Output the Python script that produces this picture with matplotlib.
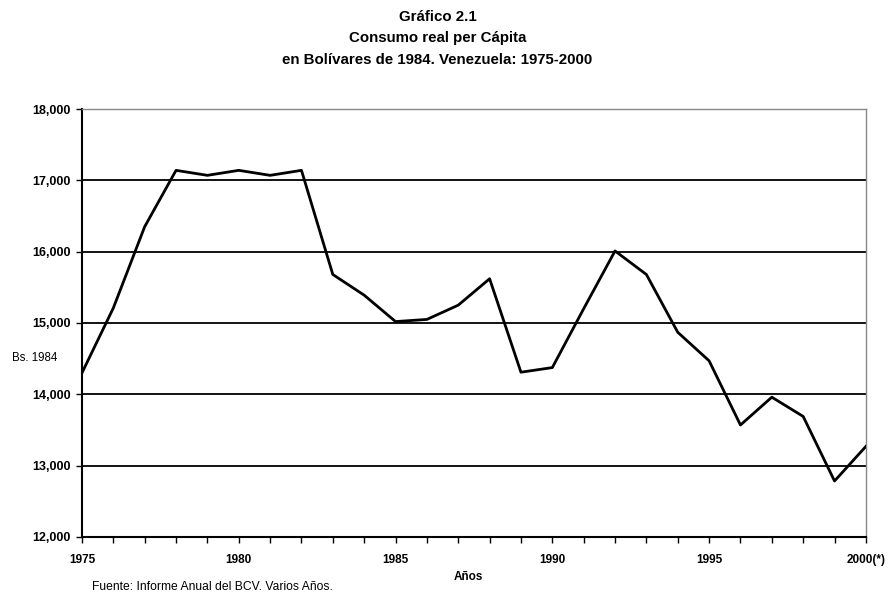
import matplotlib
matplotlib.use("Agg")
import matplotlib.pyplot as plt
from matplotlib.ticker import FuncFormatter, MultipleLocator

plt.rcParams["font.family"] = ["Liberation Sans", "DejaVu Sans"]

# consumo real per capita, Bs. de 1984
years = list(range(1975, 2001))
consumo = [14300, 15210, 16350, 17140, 17070, 17140, 17070, 17140, 15680, 15390,
           15020, 15050, 15250, 15620, 14310, 14375, 15200, 16010, 15680, 14870,
           14470, 13570, 13960, 13690, 12785, 13270]
y_ticks = [12000, 13000, 14000, 15000, 16000, 17000, 18000]
x_ticks = [1975, 1980, 1985, 1990, 1995, 2000]
x_labels = ["1975", "1980", "1985", "1990", "1995", "2000(*)"]

fig = plt.figure(figsize=(8.89, 5.95), dpi=100)
ax = fig.add_axes([0.0922, 0.0975, 0.8818, 0.7193])

# gridlines (not at the top)
for v in y_ticks[1:-1]:
    ax.axhline(v, color="black", lw=1.3, zorder=1)

ax.plot(years, consumo, color="black", lw=2.0, zorder=3)

ax.set_xlim(1975, 2000)
ax.set_ylim(12000, 18000)
ax.set_yticks(y_ticks)
ax.yaxis.set_major_formatter(FuncFormatter(lambda v, p: f"{int(v):,}"))
ax.set_xticks(x_ticks)
ax.set_xticklabels(x_labels)
ax.xaxis.set_minor_locator(MultipleLocator(1))

for lab in ax.get_xticklabels():
    lab.set_fontweight("bold")
    lab.set_fontsize(8.5)
for lab in ax.get_yticklabels():
    lab.set_fontweight("bold")
    lab.set_fontsize(9)

ax.tick_params(axis="x", which="both", direction="out", length=4, width=1, pad=8)
ax.tick_params(axis="y", direction="out", length=4, width=1, pad=4)

ax.spines["left"].set_linewidth(1.5)
ax.spines["bottom"].set_linewidth(1.5)
for s in ["top", "right"]:
    ax.spines[s].set_color("#888888")
    ax.spines[s].set_linestyle((0, (1, 1)))
    ax.spines[s].set_linewidth(1.0)

fig.text(0.492, 0.972, "Gráfico 2.1", ha="center", va="center", fontsize=10.8, fontweight="bold")
fig.text(0.492, 0.936, "Consumo real per Cápita", ha="center", va="center", fontsize=10.8, fontweight="bold")
fig.text(0.492, 0.900, "en Bolívares de 1984. Venezuela: 1975-2000", ha="center", va="center",
         fontsize=10.8, fontweight="bold")

fig.text(0.0135, 0.398, "Bs. 1984", ha="left", va="center", fontsize=8.3)
fig.text(0.527, 0.030, "Años", ha="center", va="center", fontsize=8.5, fontweight="bold")
fig.text(0.103, 0.013, "Fuente: Informe Anual del BCV. Varios Años.", ha="left", va="center", fontsize=8.7)

fig.savefig("out.png", dpi=100)
